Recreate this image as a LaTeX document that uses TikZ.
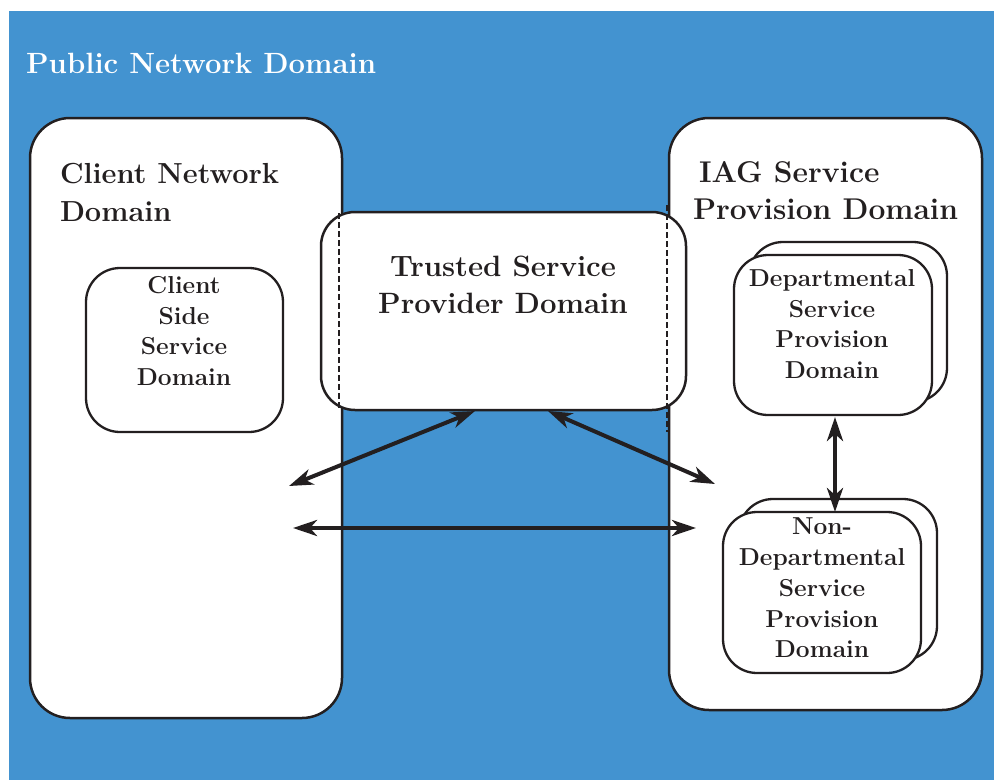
\documentclass[tikz,border=0pt]{standalone}
\usetikzlibrary{arrows.meta}
\definecolor{bgblue}{RGB}{67,147,208}
\definecolor{ink}{RGB}{35,31,32}
\begin{document}
\begin{tikzpicture}[x=1pt,y=-1pt,
  box/.style={draw=ink, fill=white, line width=2.5pt, rounded corners=40pt, inner sep=0pt, outer sep=0pt},
  sbox/.style={draw=ink, fill=white, line width=2.3pt, rounded corners=34pt, inner sep=0pt, outer sep=0pt},
  head/.style={text=ink, font=\fontsize{30}{38}\selectfont\bfseries, inner sep=0pt, outer sep=0pt},
  small/.style={text=ink, font=\fontsize{24.5}{30.7}\selectfont\bfseries, align=center, inner sep=0pt, outer sep=0pt},
  dbl/.style={{Stealth[length=24pt,width=16pt,inset=7pt]}-{Stealth[length=24pt,width=16pt,inset=7pt]}, line width=4pt, draw=ink},
  seam/.style={draw=ink, line width=1.6pt, dash pattern=on 6pt off 3pt}]
\useasboundingbox (0,0) rectangle (994,780);
\fill[white] (0,0) rectangle (994,780);
\fill[bgblue] (9,11) rectangle (994,780);
\node[text=white, font=\fontsize{29.3}{34}\selectfont\bfseries, anchor=base west, inner sep=0pt] (title) at (26,73) {Public Network Domain};
% big domains
\node[box, minimum width=312pt, minimum height=600pt] (client) at (186,418) {};
\node[box, minimum width=313pt, minimum height=592pt] (iag) at (825.5,414) {};
\node[head, anchor=base west, font=\fontsize{29}{38}\selectfont\bfseries] (cn1) at (60,183) {Client Network};
\node[head, anchor=base west, font=\fontsize{29}{38}\selectfont\bfseries] (cn2) at (60,221) {Domain};
\node[head, anchor=base west] (iag1) at (699,182) {IAG Service};
\node[head, anchor=base west] (iag2) at (693,219) {Provision Domain};
% client side service domain
\node[sbox, minimum width=197pt, minimum height=164pt] (cside) at (184.5,350) {};
\node[small] (csidet) at (184,331) {Client\\Side\\Service\\Domain};
% trusted
\node[sbox, line width=2.5pt, minimum width=365pt, minimum height=198pt] (trusted) at (503.5,311) {};
\node[head, align=center, font=\fontsize{29.4}{37}\selectfont\bfseries] (trustedt) at (503,285) {Trusted Service\\Provider Domain};
\draw[seam] (339,213) -- (339,409);
\draw[seam] (667,205) -- (667,432);
% departmental
\node[sbox, minimum width=198pt, minimum height=160pt] (deptb) at (848,322) {};
\node[sbox, minimum width=198pt, minimum height=160pt] (dept) at (833,335) {};
\node[small] (deptt) at (832,324) {Departmental\\Service\\Provision\\Domain};
% non-departmental
\node[sbox, minimum width=198pt, minimum height=161pt] (ndeptb) at (838,579.5) {};
\node[sbox, minimum width=198pt, minimum height=161pt] (ndept) at (822,592.5) {};
\node[small] (ndeptt) at (822,588) {Non-\\Departmental\\Service\\Provision\\Domain};
% connectors
\coordinate (vx) at (835,0);
\coordinate (p1) at (289,486);
\coordinate (p2) at (475,411);
\coordinate (p3) at (548,411);
\coordinate (p4) at (715,484);
\coordinate (p5) at (293,528);
\coordinate (p6) at (696,528);
\draw[dbl] (p1) -- (p2);
\draw[dbl] (p3) -- (p4);
\draw[dbl] (p5) -- (p6);
\draw[dbl] (dept.south -| vx) ++(0,2) -- (ndept.north -| vx);
\end{tikzpicture}
\end{document}
